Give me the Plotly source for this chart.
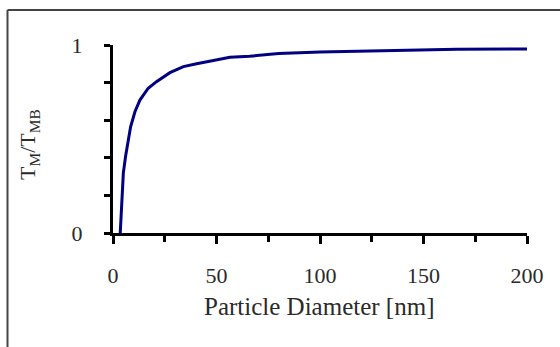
import plotly.graph_objects as go

# Particle diameter [nm] and normalized melting temperature T_M/T_MB
diameter = [3.5, 4.2, 5.0, 6.1, 7.4, 8.5, 10.6, 13, 17, 21, 27.5, 34, 40.4, 50, 56.5, 66, 80, 100, 125, 150, 166, 200]
ratio = [0.0, 0.19, 0.32, 0.41, 0.49, 0.565, 0.645, 0.707, 0.77, 0.805, 0.853, 0.885, 0.90, 0.92, 0.935, 0.94, 0.955, 0.963, 0.968, 0.972, 0.977, 0.979]

x_ticks = [0, 50, 100, 150, 200]
y_ticks = [0, 1]

FONT = "Liberation Serif, Times New Roman, serif"
W, H = 560, 347
L, R, T, B = 113, 33, 45, 114
pw, ph = W - L - R, H - T - B

def px_x(p):
    return (p - L) / pw

def px_y(p):
    return (H - B - p) / ph

fig = go.Figure()
fig.add_trace(go.Scatter(
    x=diameter, y=ratio, mode="lines",
    line=dict(color="#000080", width=3),
    cliponaxis=False, showlegend=False,
))

fig.update_layout(
    width=W, height=H,
    margin=dict(l=L, r=R, t=T, b=B, autoexpand=False),
    paper_bgcolor="white", plot_bgcolor="white",
    font=dict(family=FONT, size=22, color="#2a2a2a"),
    xaxis=dict(
        range=[0, 200], tickvals=x_ticks, ticktext=[str(v) for v in x_ticks],
        showgrid=False, zeroline=False,
        showline=True, linecolor="black", linewidth=3,
        ticks="outside", ticklen=8, tickwidth=3, tickcolor="black",
        minor=dict(dtick=25, tick0=0, ticks="outside", ticklen=6, tickwidth=3, tickcolor="black", showgrid=False),
        ticklabelstandoff=13,
        tickfont=dict(family=FONT, size=22, color="#2a2a2a"),
        fixedrange=True,
    ),
    yaxis=dict(
        range=[0, 1], tickvals=y_ticks, ticktext=[str(v) for v in y_ticks],
        showgrid=False, zeroline=False,
        showline=True, linecolor="black", linewidth=3,
        ticks="outside", ticklen=6, tickwidth=3, tickcolor="black",
        minor=dict(dtick=0.2, tick0=0, ticks="outside", ticklen=6, tickwidth=3, tickcolor="black", showgrid=False),
        ticklabelstandoff=17,
        tickfont=dict(family=FONT, size=22, color="#2a2a2a"),
        fixedrange=True,
    ),
)

# axis titles
fig.add_annotation(
    text="Particle Diameter [nm]", xref="paper", yref="paper",
    x=px_x(319), y=px_y(306), showarrow=False,
    xanchor="center", yanchor="middle",
    font=dict(family=FONT, size=25, color="#2a2a2a"),
)
fig.add_annotation(
    text="T<sub>M</sub>/T<sub>MB</sub>", xref="paper", yref="paper",
    x=px_x(29), y=px_y(145), showarrow=False, textangle=-90,
    xanchor="center", yanchor="middle",
    font=dict(family=FONT, size=22, color="#2a2a2a"),
)

# frame (left and top edges visible)
border = dict(color="#444444", width=2)
fig.add_shape(type="line", xref="paper", yref="paper",
              x0=px_x(7.5), x1=px_x(7.5), y0=px_y(10), y1=px_y(360), line=border)
fig.add_shape(type="line", xref="paper", yref="paper",
              x0=px_x(7.5), x1=px_x(570), y0=px_y(10), y1=px_y(10), line=border)

fig.write_html(
    "out.html",
    config={"displayModeBar": False, "staticPlot": True},
    post_script="document.body.style.margin='0';document.body.style.overflow='hidden';",
)
